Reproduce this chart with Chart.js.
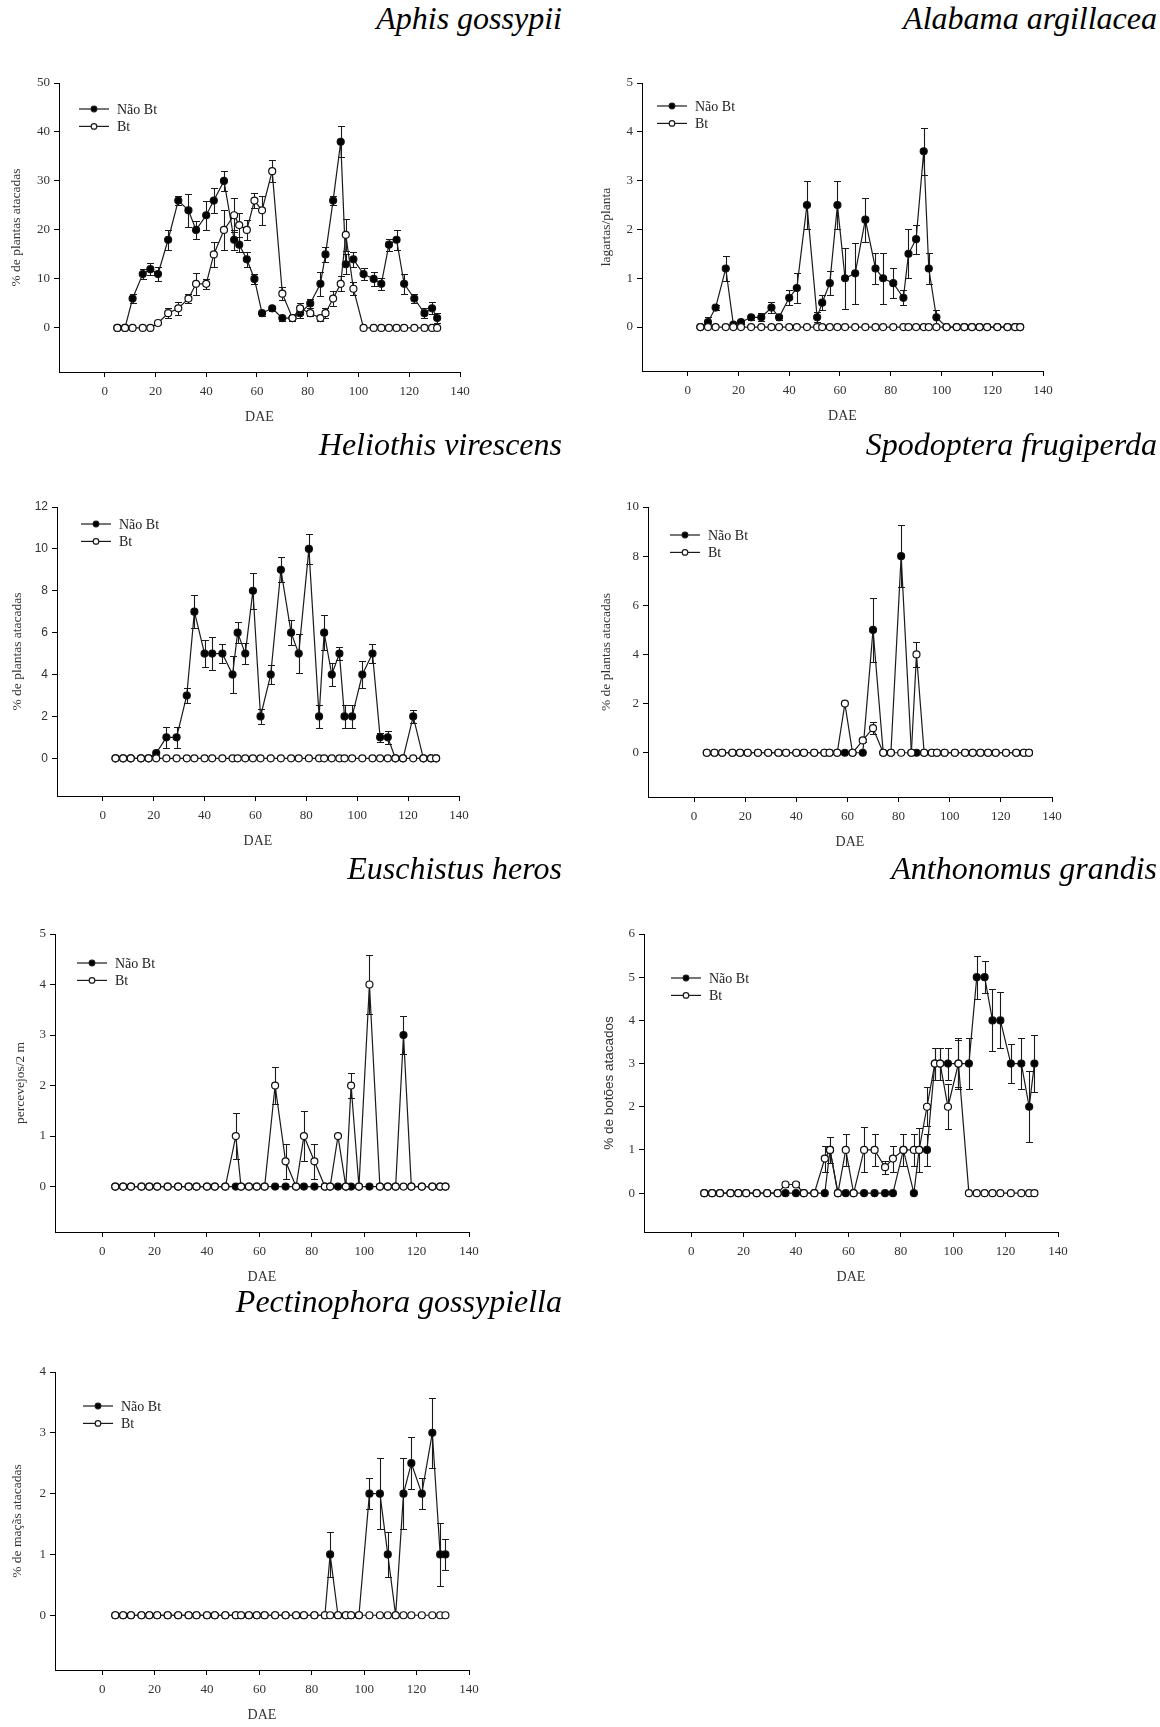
<!DOCTYPE html>
<html>
<head>
<meta charset="utf-8">
<script src="https://cdn.jsdelivr.net/npm/chart.js@4.4.0/dist/chart.umd.js"></script>
<style>
  body { margin: 0; background: #fff; width: 1160px; height: 1727px; position: relative; overflow: hidden; }
  canvas { position: absolute; }
  .ttl {
    position: absolute;
    font-family: 'Liberation Serif', 'Times New Roman', serif;
    font-style: italic;
    font-size: 32px;
    line-height: 32px;
    white-space: nowrap;
    color: #000;
  }
</style>
</head>
<body>
<script>
// sampling dates (DAE)
const dae = [5, 8, 11, 15, 18, 21, 25, 29, 33, 36, 40, 43, 47, 51, 53, 56, 59, 62, 66, 70, 74, 77, 81, 85, 87, 90, 93, 95, 98, 102, 106, 109, 112, 115, 118, 122, 126, 129, 131];
const xTicks = [0, 20, 40, 60, 80, 100, 120, 140];
const seriesNames = ['Não Bt', 'Bt'];

// Aphis gossypii
const aphisNao    = [0, 0, 6, 11, 12, 11, 18, 26, 24, 20, 23, 26, 30, 18, 17, 14, 10, 3, 4, 2, 2, 3, 5, 9, 15, 26, 38, 13, 14, 11, 10, 9, 17, 18, 9, 6, 3, 4, 2];
const aphisNaoErr = [0, 0, 1, 1, 1.2, 1.5, 2, 1, 3.3, 1.8, 3, 2.5, 2, 2, 1.5, 1.5, 1, 0.5, 0.5, 0.5, 0.5, 1, 1, 2.5, 1.5, 1, 3.2, 2, 1.5, 1.3, 1.5, 1.2, 1.2, 2, 2, 1, 1, 1.2, 1];
const aphisBt     = [0, 0, 0, 0, 0, 1, 3, 4, 6, 9, 9, 15, 20, 23, 21, 20, 26, 24, 32, 7, 2, 4, 3, 2, 3, 6, 9, 19, 8, 0, 0, 0, 0, 0, 0, 0, 0, 0, 0];
const aphisBtErr  = [0, 0, 0, 0, 0, 0.3, 1, 1.3, 1, 2.3, 1, 2.5, 4, 3.5, 2.5, 2, 1.5, 3, 2.3, 1.3, 0.5, 1, 0.5, 0.5, 1, 1.5, 1.5, 3.3, 1.3, 0, 0, 0, 0, 0, 0, 0, 0, 0, 0];
const aphisYTicks = [0, 10, 20, 30, 40, 50];

// Alabama argillacea
const alabamaNao    = [0, 0.1, 0.4, 1.2, 0.05, 0.1, 0.2, 0.2, 0.4, 0.2, 0.6, 0.8, 2.5, 0.2, 0.5, 0.9, 2.5, 1.0, 1.1, 2.2, 1.2, 1.0, 0.9, 0.6, 1.5, 1.8, 3.6, 1.2, 0.2, 0, 0, 0, 0, 0, 0, 0, 0, 0, 0];
const alabamaNaoErr = [0, 0.1, 0.05, 0.25, 0, 0.03, 0.05, 0.08, 0.12, 0.05, 0.15, 0.3, 0.5, 0.1, 0.15, 0.25, 0.5, 0.63, 0.63, 0.45, 0.32, 0.52, 0.3, 0.15, 0.5, 0.3, 0.48, 0.32, 0.15, 0, 0, 0, 0, 0, 0, 0, 0, 0, 0];
const alabamaBt     = [0, 0, 0, 0, 0, 0, 0, 0, 0, 0, 0, 0, 0, 0, 0, 0, 0, 0, 0, 0, 0, 0, 0, 0, 0, 0, 0, 0, 0, 0, 0, 0, 0, 0, 0, 0, 0, 0, 0];
const alabamaYTicks = [0, 1, 2, 3, 4, 5];

// Heliothis virescens
const heliothisNao    = [0, 0, 0, 0, 0, 0.25, 1, 1, 3, 7, 5, 5, 5, 4, 6, 5, 8, 2, 4, 9, 6, 5, 10, 2, 6, 4, 5, 2, 2, 4, 5, 1, 1, 0, 0, 2, 0, 0, 0];
const heliothisNaoErr = [0, 0, 0, 0, 0, 0.05, 0.5, 0.5, 0.35, 0.8, 0.65, 0.8, 0.45, 0.9, 0.5, 0.5, 0.85, 0.35, 0.45, 0.6, 0.6, 0.95, 0.7, 0.55, 0.85, 0.55, 0.3, 0.55, 0.55, 0.65, 0.45, 0.2, 0.3, 0, 0, 0.3, 0, 0, 0];
const heliothisBt     = [0, 0, 0, 0, 0, 0, 0, 0, 0, 0, 0, 0, 0, 0, 0, 0, 0, 0, 0, 0, 0, 0, 0, 0, 0, 0, 0, 0, 0, 0, 0, 0, 0, 0, 0, 0, 0, 0, 0];
const heliothisYTicks = [0, 2, 4, 6, 8, 10, 12];

// Spodoptera frugiperda
const spodNao    = [0, 0, 0, 0, 0, 0, 0, 0, 0, 0, 0, 0, 0, 0, 0, 0, 0, 0, 0, 5, 0, 0, 8, 0, 0, 0, 0, 0, 0, 0, 0, 0, 0, 0, 0, 0, 0, 0, 0];
const spodNaoErr = [0, 0, 0, 0, 0, 0, 0, 0, 0, 0, 0, 0, 0, 0, 0, 0, 0, 0, 0, 1.3, 0, 0, 1.25, 0, 0, 0, 0, 0, 0, 0, 0, 0, 0, 0, 0, 0, 0, 0, 0];
const spodBt     = [0, 0, 0, 0, 0, 0, 0, 0, 0, 0, 0, 0, 0, 0, 0, 0, 2, 0, 0.5, 1, 0, 0, 0, 0, 4, 0, 0, 0, 0, 0, 0, 0, 0, 0, 0, 0, 0, 0, 0];
const spodBtErr  = [0, 0, 0, 0, 0, 0, 0, 0, 0, 0, 0, 0, 0, 0, 0, 0, 0, 0, 0.05, 0.25, 0, 0, 0, 0, 0.5, 0, 0, 0, 0, 0, 0, 0, 0, 0, 0, 0, 0, 0, 0];
const spodYTicks = [0, 2, 4, 6, 8, 10];

// Euschistus heros
const euschNao    = [0, 0, 0, 0, 0, 0, 0, 0, 0, 0, 0, 0, 0, 0, 0, 0, 0, 0, 0, 0, 0, 0, 0, 0, 0, 0, 0, 0, 0, 0, 0, 0, 0, 3, 0, 0, 0, 0, 0];
const euschNaoErr = [0, 0, 0, 0, 0, 0, 0, 0, 0, 0, 0, 0, 0, 0, 0, 0, 0, 0, 0, 0, 0, 0, 0, 0, 0, 0, 0, 0, 0, 0, 0, 0, 0, 0.37, 0, 0, 0, 0, 0];
const euschBt     = [0, 0, 0, 0, 0, 0, 0, 0, 0, 0, 0, 0, 0, 1, 0, 0, 0, 0, 2, 0.5, 0, 1, 0.5, 0, 0, 1, 0, 2, 0, 4, 0, 0, 0, 0, 0, 0, 0, 0, 0];
const euschBtErr  = [0, 0, 0, 0, 0, 0, 0, 0, 0, 0, 0, 0, 0, 0.45, 0, 0, 0, 0, 0.37, 0.35, 0, 0.5, 0.35, 0, 0, 0, 0, 0.25, 0, 0.58, 0, 0, 0, 0, 0, 0, 0, 0, 0];
const euschYTicks = [0, 1, 2, 3, 4, 5];

// Anthonomus grandis
const anthNao    = [0, 0, 0, 0, 0, 0, 0, 0, 0, 0, 0, 0, 0, 0, 1, 0, 0, 0, 0, 0, 0, 0, 1, 0, 1, 1, 3, 3, 3, 3, 3, 5, 5, 4, 4, 3, 3, 2, 3];
const anthNaoErr = [0, 0, 0, 0, 0, 0, 0, 0, 0, 0, 0, 0, 0, 0, 0, 0, 0, 0, 0, 0, 0, 0, 0, 0, 0, 0.37, 0.37, 0.37, 0.37, 0.55, 0.6, 0.5, 0.37, 0.72, 0.65, 0.46, 0.6, 0.82, 0.65];
const anthBt     = [0, 0, 0, 0, 0, 0, 0, 0, 0, 0.2, 0.2, 0, 0, 0.8, 1, 0, 1, 0, 1, 1, 0.6, 0.8, 1, 1, 1, 2, 3, 3, 2, 3, 0, 0, 0, 0, 0, 0, 0, 0, 0];
const anthBtErr  = [0, 0, 0, 0, 0, 0, 0, 0, 0, 0.05, 0.05, 0, 0, 0.3, 0.3, 0, 0.37, 0, 0.52, 0.37, 0.15, 0.3, 0.37, 0.37, 0.5, 0.45, 0.37, 0.37, 0.52, 0.6, 0, 0, 0, 0, 0, 0, 0, 0, 0];
const anthYTicks = [0, 1, 2, 3, 4, 5, 6];

// Pectinophora gossypiella
const pectNao    = [0, 0, 0, 0, 0, 0, 0, 0, 0, 0, 0, 0, 0, 0, 0, 0, 0, 0, 0, 0, 0, 0, 0, 0, 1, 0, 0, 0, 0, 2, 2, 1, 0, 2, 2.5, 2, 3, 1, 1];
const pectNaoErr = [0, 0, 0, 0, 0, 0, 0, 0, 0, 0, 0, 0, 0, 0, 0, 0, 0, 0, 0, 0, 0, 0, 0, 0, 0.37, 0, 0, 0, 0, 0.26, 0.58, 0.37, 0, 0.58, 0.43, 0.26, 0.58, 0.52, 0.26];
const pectBt     = [0, 0, 0, 0, 0, 0, 0, 0, 0, 0, 0, 0, 0, 0, 0, 0, 0, 0, 0, 0, 0, 0, 0, 0, 0, 0, 0, 0, 0, 0, 0, 0, 0, 0, 0, 0, 0, 0, 0];
const pectYTicks = [0, 1, 2, 3, 4];

const serif = "'Liberation Serif', 'Times New Roman', serif";
const sans = "'Liberation Sans', Arial, sans-serif";

// error bars drawn under each dataset's own line and markers
const errorBars = {
    id: 'errorBars',
    beforeDatasetDraw(chart, args) {
        const ds = chart.data.datasets[args.index];
        if (!ds.errors) return;
        const { ctx, scales: { x, y } } = chart;
        ctx.save();
        ctx.strokeStyle = '#1a1a1a';
        ctx.lineWidth = 1.1;
        ds.data.forEach((p, i) => {
            const e = ds.errors[i];
            if (!e) return;
            const px = Math.round(x.getPixelForValue(p.x)) + 0.5;
            const top = Math.round(y.getPixelForValue(p.y + e)) + 0.5;
            const bot = Math.round(y.getPixelForValue(p.y - e)) + 0.5;
            ctx.beginPath();
            ctx.moveTo(px, top); ctx.lineTo(px, bot);
            ctx.moveTo(px - 3.5, top); ctx.lineTo(px + 3.5, top);
            ctx.moveTo(px - 3.5, bot); ctx.lineTo(px + 3.5, bot);
            ctx.stroke();
        });
        ctx.restore();
    }
};

// legend inside the plot, top-left
const insideLegend = {
    id: 'insideLegend',
    afterDraw(chart, args, opts) {
        const { ctx, chartArea } = chart;
        const x0 = chartArea.left + opts.dx;
        let y0 = chartArea.top + opts.dy;
        ctx.save();
        chart.data.datasets.slice().sort((a, b) => a.legendIndex - b.legendIndex).forEach(ds => {
            ctx.strokeStyle = '#1a1a1a';
            ctx.lineWidth = 1.2;
            ctx.beginPath();
            ctx.moveTo(x0, y0); ctx.lineTo(x0 + 30, y0);
            ctx.stroke();
            ctx.beginPath();
            ctx.arc(x0 + 15, y0, 2.8, 0, Math.PI * 2);
            ctx.fillStyle = ds.pointBackgroundColor;
            ctx.fill();
            ctx.stroke();
            ctx.fillStyle = '#222';
            ctx.font = '14px ' + serif;
            ctx.textBaseline = 'middle';
            ctx.fillText(ds.label, x0 + 38, y0 + 1);
            y0 += 17.4;
        });
        ctx.restore();
    }
};

const panels = [
    { title: 'Aphis gossypii', titleRight: 562, titleBase: 29,
      box: [59, 460, 83, 372], ymin: -9, ymax: 50, yTicks: aphisYTicks,
      ylabel: '% de plantas atacadas', yOff: 42.6, leg: [20, 26],
      nao: aphisNao, naoErr: aphisNaoErr, bt: aphisBt, btErr: aphisBtErr },
    { title: 'Alabama argillacea', titleRight: 1157, titleBase: 29,
      box: [642, 1043, 83, 371], ymin: -0.9, ymax: 5, yTicks: alabamaYTicks,
      ylabel: 'lagartas/planta', yOff: 36, leg: [15, 23],
      nao: alabamaNao, naoErr: alabamaNaoErr, bt: alabamaBt, btErr: null },
    { title: 'Heliothis virescens', titleRight: 562, titleBase: 455,
      box: [57, 459, 507, 796], ymin: -1.8, ymax: 12, yTicks: heliothisYTicks, yFont: sans,
      ylabel: '% de plantas atacadas', yOff: 39.6, leg: [24, 17],
      nao: heliothisNao, naoErr: heliothisNaoErr, bt: heliothisBt, btErr: null },
    { title: 'Spodoptera frugiperda', titleRight: 1157, titleBase: 455,
      box: [648, 1052, 507, 797], ymin: -1.8, ymax: 10, yTicks: spodYTicks,
      ylabel: '% de plantas atacadas', yOff: 42, leg: [22, 28],
      nao: spodNao, naoErr: spodNaoErr, bt: spodBt, btErr: spodBtErr },
    { title: 'Euschistus heros', titleRight: 562, titleBase: 879,
      box: [55, 469, 934, 1232], ymin: -0.9, ymax: 5, yTicks: euschYTicks,
      ylabel: 'percevejos/2 m', yOff: 34.7, leg: [22, 29],
      nao: euschNao, naoErr: euschNaoErr, bt: euschBt, btErr: euschBtErr },
    { title: 'Anthonomus grandis', titleRight: 1157, titleBase: 879,
      box: [644, 1058, 934, 1232], ymin: -0.9, ymax: 6, yTicks: anthYTicks, yTitleFont: sans,
      ylabel: '% de botões atacados', yOff: 35, leg: [27, 44],
      nao: anthNao, naoErr: anthNaoErr, bt: anthBt, btErr: anthBtErr },
    { title: 'Pectinophora gossypiella', titleRight: 562, titleBase: 1312,
      box: [55, 469, 1372, 1670], ymin: -0.9, ymax: 4, yTicks: pectYTicks,
      ylabel: '% de maçãs atacadas', yOff: 37.6, leg: [28, 34],
      nao: pectNao, naoErr: pectNaoErr, bt: pectBt, btErr: null }
];

const Y_W = 60, X_H = 60, PAD_T = 20, PAD_R = 30;

function makePanel(p) {
    const [L, R, T, B] = p.box;
    const W = R - L + Y_W + PAD_R;
    const H = B - T + PAD_T + X_H;

    const ttl = document.createElement('div');
    ttl.className = 'ttl';
    ttl.textContent = p.title;
    ttl.style.right = (1160 - p.titleRight) + 'px';
    ttl.style.top = (p.titleBase - 27) + 'px';
    document.body.appendChild(ttl);

    const cv = document.createElement('canvas');
    cv.width = W; cv.height = H;
    cv.style.left = (L - Y_W) + 'px';
    cv.style.top = (T - PAD_T) + 'px';
    cv.style.width = W + 'px';
    cv.style.height = H + 'px';
    document.body.appendChild(cv);

    const yTitleSize = 13.5;
    const common = {
        showLine: true,
        borderColor: '#1a1a1a',
        borderWidth: 1.2,
        tension: 0,
        pointRadius: 3.5,
        pointHoverRadius: 3.5,
        pointBorderColor: '#111',
        pointBorderWidth: 1.2
    };

    new Chart(cv, {
        type: 'scatter',
        data: {
            datasets: [
                { ...common, label: seriesNames[0], legendIndex: 0, order: 1,
                  data: dae.map((d, i) => ({ x: d, y: p.nao[i] })), errors: p.naoErr,
                  pointBackgroundColor: '#000' },
                { ...common, label: seriesNames[1], legendIndex: 1, order: 0,
                  data: dae.map((d, i) => ({ x: d, y: p.bt[i] })), errors: p.btErr,
                  pointBackgroundColor: '#fff' }
            ]
        },
        options: {
            responsive: false,
            animation: false,
            devicePixelRatio: 1,
            layout: { padding: { left: 0, top: PAD_T, right: PAD_R, bottom: 0 } },
            plugins: {
                legend: { display: false },
                tooltip: { enabled: false },
                insideLegend: { dx: p.leg[0], dy: p.leg[1] }
            },
            scales: {
                x: {
                    type: 'linear',
                    min: -18, max: 140,
                    afterBuildTicks: s => { s.ticks = xTicks.map(v => ({ value: v })); },
                    afterFit: s => { s.height = X_H; s.paddingLeft = 0; s.paddingRight = 0; },
                    ticks: { font: { family: serif, size: 13 }, color: '#333', padding: 7, maxRotation: 0, autoSkip: false },
                    grid: { drawOnChartArea: false, drawTicks: true, tickLength: 5, color: '#000' },
                    border: { color: '#000', width: 1 },
                    title: { display: true, text: 'DAE', color: '#333', font: { family: serif, size: 14 }, padding: { top: 0, bottom: 6.6 } }
                },
                y: {
                    type: 'linear',
                    min: p.ymin, max: p.ymax,
                    afterBuildTicks: s => { s.ticks = p.yTicks.map(v => ({ value: v })); },
                    afterFit: s => { s.width = Y_W; s.paddingTop = 0; s.paddingBottom = 0; },
                    ticks: { font: { family: p.yFont || serif, size: p.yFont ? 12 : 13 }, color: '#333', padding: 4 },
                    grid: { drawOnChartArea: false, drawTicks: true, tickLength: 5, color: '#000' },
                    border: { color: '#000', width: 1 },
                    title: {
                        display: true, text: p.ylabel, color: '#333',
                        font: { family: p.yTitleFont || serif, size: yTitleSize },
                        padding: { top: Y_W - p.yOff - yTitleSize * 0.6, bottom: 0 }
                    }
                }
            }
        },
        plugins: [errorBars, insideLegend]
    });
}

panels.forEach(makePanel);
</script>
</body>
</html>
